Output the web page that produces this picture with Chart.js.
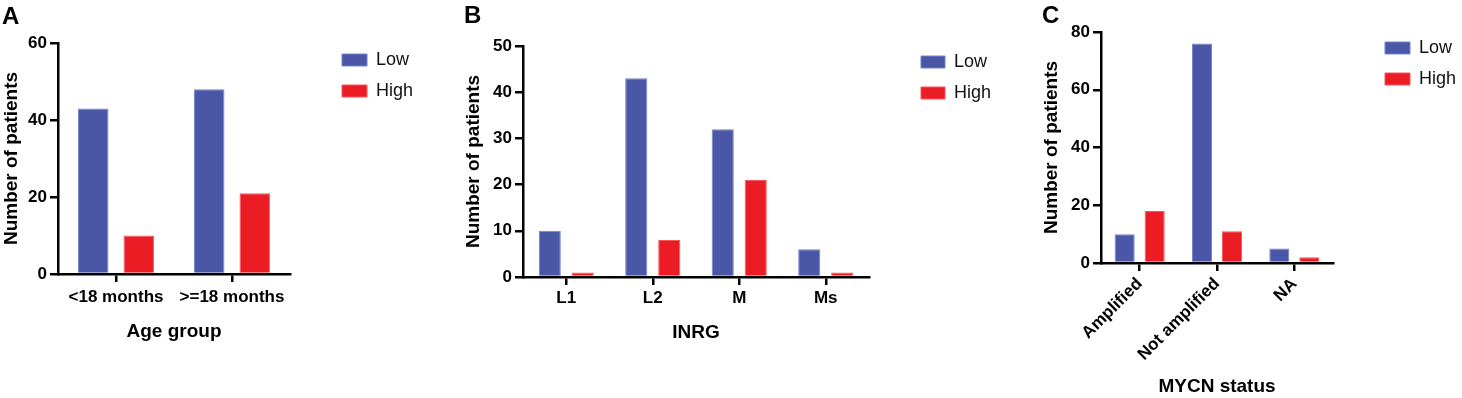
<!DOCTYPE html>
<html lang="en">
<head>
<meta charset="UTF-8">
<title>Patients by Low / High group</title>
<script src="https://cdn.jsdelivr.net/npm/chart.js"></script>
<style>
  body { margin: 0; background: #fff; }
  .fig { position: relative; width: 1462px; height: 398px; overflow: hidden; }
  .fig canvas { position: absolute; top: 0; }
  .tag { position: absolute; font: bold 24px 'Liberation Sans', Arial, sans-serif; line-height: 1; color: #000; }
</style>
</head>
<body>
<div class="fig">
  <canvas id="chartA" width="440" height="398" style="left:0px"></canvas>
  <canvas id="chartB" width="560" height="398" style="left:440px"></canvas>
  <canvas id="chartC" width="462" height="398" style="left:1000px"></canvas>
  <div class="tag" style="left:2px;top:4px">A</div>
  <div class="tag" style="left:464px;top:3px">B</div>
  <div class="tag" style="left:1042px;top:3px">C</div>
</div>

<script>
// data
const seriesNames = ['Low', 'High'];

const ageGroups = ['<18 months', '>=18 months'];
const ageLow = [43, 48];
const ageHigh = [10, 21];
const ageTicks = [0, 20, 40, 60];

const inrgStages = ['L1', 'L2', 'M', 'Ms'];
const inrgLow = [10, 43, 32, 6];
const inrgHigh = [1, 8, 21, 1];
const inrgTicks = [0, 10, 20, 30, 40, 50];

const mycnStatus = ['Amplified', 'Not amplified', 'NA'];
const mycnLow = [10, 76, 5];
const mycnHigh = [18, 11, 2];
const mycnTicks = [0, 20, 40, 60, 80];

const BLUE = '#4a57a7';
const BLUE_EDGE = '#7482cc';
const RED = '#ec1c24';
const RED_EDGE = '#f4575c';

Chart.defaults.font.family = "'Liberation Sans', Arial, Helvetica, sans-serif";
Chart.defaults.color = '#000';

// legend is kept out of the layout (position chartArea) and moved to a fixed spot
const legendSpot = {
    id: 'legendSpot',
    afterLayout(chart, args, opts) {
        const lg = chart.legend;
        if (!lg) return;
        lg.left = opts.x; lg.top = opts.y;
        lg.width = 140; lg.height = 120;
        lg.right = opts.x + 140; lg.bottom = opts.y + 120;
    }
};

function panel(id, p) {
    const canvas = document.getElementById(id);
    const W = canvas.width, H = canvas.height;
    const bold = (size) => ({ size: size, weight: 'bold', lineHeight: 1.2 });
    return new Chart(canvas, {
        type: 'bar',
        data: {
            labels: p.labels,
            datasets: [
                { label: seriesNames[0], data: p.low, backgroundColor: BLUE, borderColor: BLUE_EDGE, borderWidth: 1,
                  categoryPercentage: p.cat, barPercentage: 0.67 },
                { label: seriesNames[1], data: p.high, backgroundColor: RED, borderColor: RED_EDGE, borderWidth: 1,
                  categoryPercentage: p.cat, barPercentage: 0.67 }
            ]
        },
        options: {
            responsive: false,
            animation: false,
            layout: { padding: { left: 0, top: p.area.top, right: W - p.area.right, bottom: 0 } },
            plugins: {
                tooltip: { enabled: false },
                legend: {
                    position: 'chartArea',
                    align: 'start',
                    labels: {
                        boxWidth: p.box, boxHeight: 12, padding: 13, color: '#111',
                        font: { size: 18, weight: 'normal' }
                    }
                },
                legendSpot: p.legend
            },
            scales: {
                x: {
                    offset: true,
                    grid: { offset: false, drawOnChartArea: false, drawTicks: true, tickLength: 8, lineWidth: 2.5, color: '#000' },
                    border: { display: true, color: '#000', width: 2.5, z: 1 },
                    ticks: { font: bold(17), color: '#000', padding: p.xPad, autoSkip: false,
                             minRotation: p.rot, maxRotation: p.rot },
                    title: { display: true, text: p.xTitle, font: bold(19), color: '#000',
                             padding: { top: 0, bottom: p.xTitlePad } },
                    afterFit(s) { s.height = H - p.area.bottom; }
                },
                y: {
                    min: p.ticks[0],
                    max: p.ticks[p.ticks.length - 1],
                    grid: { drawOnChartArea: false, drawTicks: true, tickLength: 8, lineWidth: 2.5, color: '#000' },
                    border: { display: true, color: '#000', width: 2.5, z: 1 },
                    ticks: { stepSize: p.ticks[1] - p.ticks[0], font: bold(17), color: '#000', padding: 3 },
                    title: { display: true, text: 'Number of patients', font: bold(19), color: '#000',
                             padding: { top: p.yTitlePad, bottom: 0 } },
                    afterFit(s) { s.width = p.area.left; }
                }
            }
        },
        plugins: [legendSpot]
    });
}

// Age group
panel('chartA', {
    labels: ageGroups, low: ageLow, high: ageHigh, ticks: ageTicks,
    xTitle: 'Age group',
    area: { left: 58, right: 290, top: 43, bottom: 274 },
    cat: 0.784, box: 25, xPad: 5, rot: 0,
    yTitlePad: 0, xTitlePad: 55,
    legend: { x: 329, y: 38 }
});

// INRG
panel('chartB', {
    labels: inrgStages, low: inrgLow, high: inrgHigh, ticks: inrgTicks,
    xTitle: 'INRG',
    area: { left: 83, right: 429, top: 46, bottom: 277 },
    cat: 0.763, box: 24, xPad: 3, rot: 0,
    yTitlePad: 22.6, xTitlePad: 53.6,
    legend: { x: 468, y: 40 }
});

// MYCN status
panel('chartC', {
    labels: mycnStatus, low: mycnLow, high: mycnHigh, ticks: mycnTicks,
    xTitle: 'MYCN status',
    area: { left: 101, right: 333, top: 32, bottom: 263 },
    cat: 0.776, box: 25, xPad: 3, rot: 45,
    yTitlePad: 40.6, xTitlePad: 0,
    legend: { x: 372, y: 26 }
});
</script>
</body>
</html>
